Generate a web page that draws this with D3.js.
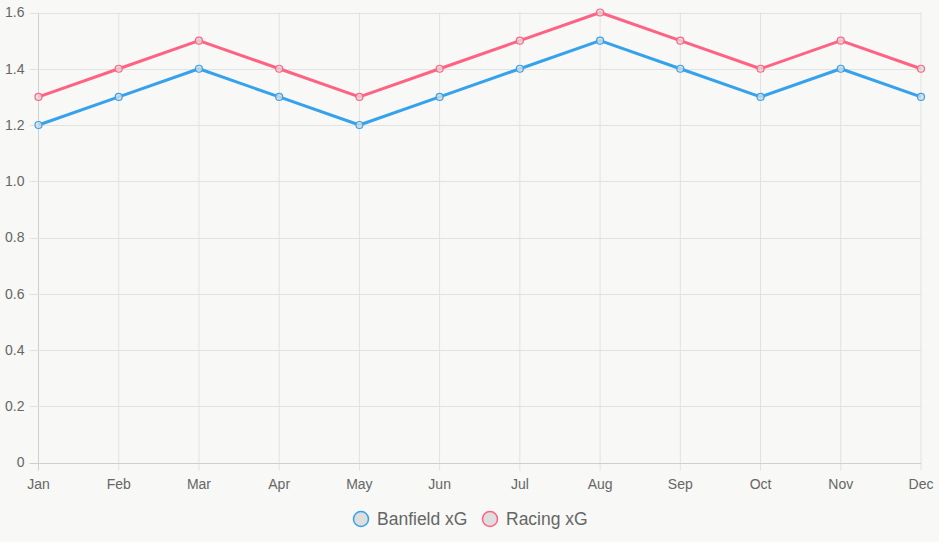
<!DOCTYPE html>
<html>
<head>
<meta charset="utf-8">
<script src="https://cdn.jsdelivr.net/npm/d3@7"></script>
<style>
  html, body { margin: 0; padding: 0; background: #f8f8f6; }
  svg { display: block; font-family: "Liberation Sans", Arial, sans-serif; }
</style>
</head>
<body>
<div id="chart"></div>
<script>
// datos
const months = ["Jan", "Feb", "Mar", "Apr", "May", "Jun", "Jul", "Aug", "Sep", "Oct", "Nov", "Dec"];
const banfieldXG = [1.2, 1.3, 1.4, 1.3, 1.2, 1.3, 1.4, 1.5, 1.4, 1.3, 1.4, 1.3];
const racingXG = [1.3, 1.4, 1.5, 1.4, 1.3, 1.4, 1.5, 1.6, 1.5, 1.4, 1.5, 1.4];
const yTicks = [0, 0.2, 0.4, 0.6, 0.8, 1.0, 1.2, 1.4, 1.6];

const series = [
  { name: "Banfield xG", values: banfieldXG, color: "#36a2eb" },
  { name: "Racing xG", values: racingXG, color: "#ff6384" }
];

const W = 939, H = 542;
const plot = { left: 38.5, right: 921, top: 12.5, bottom: 462.5 };

const svg = d3.select("#chart").append("svg")
  .attr("width", W)
  .attr("height", H);

const x = d3.scalePoint().domain(months).range([plot.left, plot.right]);
const y = d3.scaleLinear().domain([0, 1.6]).range([plot.bottom, plot.top]);

// rejilla
svg.append("g").selectAll("line").data(months).join("line")
  .attr("x1", d => x(d)).attr("x2", d => x(d))
  .attr("y1", plot.top).attr("y2", plot.bottom + 8)
  .attr("stroke", d => d === "Jan" ? "#cfcfcf" : "#e2e2e2")
  .attr("stroke-width", 1);

svg.append("g").selectAll("line").data(yTicks).join("line")
  .attr("x1", plot.left - 9).attr("x2", plot.right)
  .attr("y1", d => Math.round(y(d)) + 0.5).attr("y2", d => Math.round(y(d)) + 0.5)
  .attr("stroke", d => d === 0 ? "#cfcfcf" : "#e2e2e2")
  .attr("stroke-width", 1);

// etiquetas de ejes
svg.append("g").selectAll("text").data(yTicks).join("text")
  .attr("x", plot.left - 14)
  .attr("y", d => y(d))
  .attr("dy", "0.35em")
  .attr("text-anchor", "end")
  .attr("font-size", 14)
  .attr("fill", "#666")
  .text(d => d === 0 ? "0" : d.toFixed(1));

svg.append("g").selectAll("text").data(months).join("text")
  .attr("x", d => x(d))
  .attr("y", plot.bottom + 22)
  .attr("dy", "0.35em")
  .attr("text-anchor", "middle")
  .attr("font-size", 14)
  .attr("fill", "#666")
  .text(d => d);

// lineas
const line = d3.line()
  .x((d, i) => x(months[i]))
  .y(d => y(d));

series.forEach(s => {
  svg.append("path")
    .datum(s.values)
    .attr("d", line)
    .attr("fill", "none")
    .attr("stroke", s.color)
    .attr("stroke-width", 3)
    .attr("stroke-linejoin", "round");

  svg.append("g").selectAll("circle").data(s.values).join("circle")
    .attr("cx", (d, i) => x(months[i]))
    .attr("cy", d => y(d))
    .attr("r", 3.5)
    .attr("fill", "rgba(220,220,220,0.8)")
    .attr("stroke", s.color)
    .attr("stroke-width", 1.2);
});

// leyenda
const legend = svg.append("g");
const legendX = [361, 490];
series.forEach((s, i) => {
  const g = legend.append("g").attr("transform", `translate(${legendX[i]},519)`);
  g.append("circle")
    .attr("r", 7.5)
    .attr("fill", "#dedede")
    .attr("stroke", s.color)
    .attr("stroke-width", 1.5);
  g.append("text")
    .attr("x", 16)
    .attr("dy", "0.35em")
    .attr("font-size", 17.5)
    .attr("fill", "#666")
    .text(s.name);
});
</script>
</body>
</html>
